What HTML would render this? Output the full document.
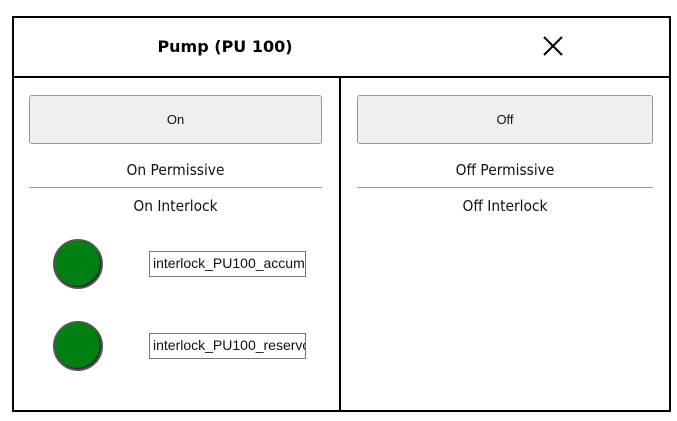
<!DOCTYPE html>
<html><head><style>
body{margin:0;width:677px;height:421px;background:#fff;position:relative;overflow:hidden;font-family:"DejaVu Sans","Liberation Sans",sans-serif}
.a{position:absolute;box-sizing:border-box}
.btn{background:#efefef;border:1px solid #999;border-radius:3px;font:13px "Liberation Sans",sans-serif;color:#111;display:flex;align-items:center;justify-content:center}
.lbl{font-size:15px;color:#111;text-align:center;transform:scaleX(0.92)}
.hr{height:1px;background:#999}
.led{width:50px;height:50px;border-radius:50%;background:#007f12;border:2px solid #555;box-shadow:inset -1px -1px 1px #222}
.inp{border:1px solid #777;font:14px "Liberation Sans",sans-serif;color:#111;padding:3px 0 0 3px;white-space:nowrap;overflow:hidden;background:#fff}
</style></head><body>
<div class="a" style="left:12px;top:16px;width:659px;height:396px;border:2px solid #000"></div>
<div class="a" style="left:12px;top:76px;width:659px;height:2px;background:#000"></div>
<div class="a" style="left:339px;top:76px;width:2px;height:336px;background:#000"></div>
<div class="a" style="left:100px;top:37px;width:250px;text-align:center;font-weight:bold;font-size:16px;color:#000">Pump (PU 100)</div>
<svg class="a" style="left:542px;top:35px" width="22" height="22"><path d="M2 2L20 20M20 2L2 20" stroke="#000" stroke-width="2"/></svg>
<div class="a btn" style="left:29px;top:95px;width:293px;height:49px">On</div>
<div class="a btn" style="left:357px;top:95px;width:296px;height:49px">Off</div>
<div class="a lbl" style="left:29px;top:161px;width:293px">On Permissive</div>
<div class="a lbl" style="left:357px;top:161px;width:296px">Off Permissive</div>
<div class="a hr" style="left:29px;top:187px;width:293px"></div>
<div class="a hr" style="left:357px;top:187px;width:296px"></div>
<div class="a lbl" style="left:29px;top:197px;width:293px">On Interlock</div>
<div class="a lbl" style="left:357px;top:197px;width:296px">Off Interlock</div>
<div class="a led" style="left:53px;top:239px"></div>
<div class="a led" style="left:53px;top:321px"></div>
<div class="a inp" style="left:149px;top:251px;width:157px;height:26px">interlock_PU100_accumulator</div>
<div class="a inp" style="left:149px;top:333px;width:157px;height:26px">interlock_PU100_reservoir</div>
</body></html>
